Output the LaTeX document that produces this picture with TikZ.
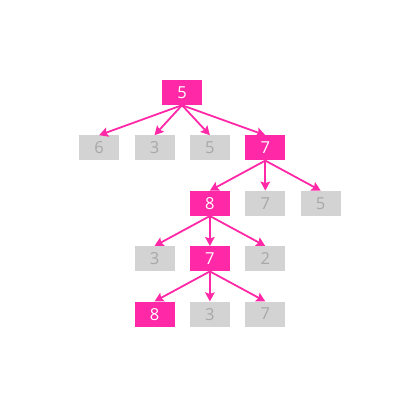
\documentclass[tikz,border=0pt]{standalone}
\usepackage{fontspec}
\setmainfont{Open Sans}
\usetikzlibrary{arrows.meta,positioning}
\definecolor{hotpink}{RGB}{255,40,166}
\definecolor{boxgray}{RGB}{211,211,211}
\definecolor{textgray}{RGB}{168,168,168}

\begin{document}
\begin{tikzpicture}[
        x=1pt, y=-1pt,
        node distance=15pt,
        box/.style={
            rectangle,
            minimum width=40pt,
            minimum height=25pt,
            inner sep=0pt,
            font=\fontsize{16.5}{18}\selectfont
        },
        hot/.style={box, fill=hotpink, text=white},
        cold/.style={box, fill=boxgray, text=textgray},
        edge/.style={draw=hotpink, line width=1.8pt,
            -{Stealth[length=9pt, width=9.5pt, inset=1.5pt]}}
    ]
        \useasboundingbox (0,0) rectangle (420,405);

        % root
        \node (r) [hot] at (182,92.5) {5};

        % first row
        \node (a2) [cold, below=30pt of r, xshift=-27.5pt] {3};
        \node (a1) [cold, left=of a2] {6};
        \node (a3) [cold, right=of a2] {5};
        \node (a4) [hot, right=of a3] {7};

        % second row
        \node (b2) [cold, below=30pt of a4] {7};
        \node (b1) [hot, left=of b2] {8};
        \node (b3) [cold, right=of b2] {5};

        % third row
        \node (c2) [hot, below=30pt of b1] {7};
        \node (c1) [cold, left=of c2] {3};
        \node (c3) [cold, right=of c2] {2};

        % fourth row
        \node (d2) [cold, below=30pt of c2] {3};
        \node (d1) [hot, left=of d2] {8};
        \node (d3) [cold, right=of d2] {7};

        \foreach \p/\c in {r/a1, r/a2, r/a3, r/a4,
                           a4/b1, a4/b2, a4/b3,
                           b1/c1, b1/c2, b1/c3,
                           c2/d1, c2/d2, c2/d3}
            \draw[edge] (\p.south) -- (\c.north);
    \end{tikzpicture}
\end{document}
